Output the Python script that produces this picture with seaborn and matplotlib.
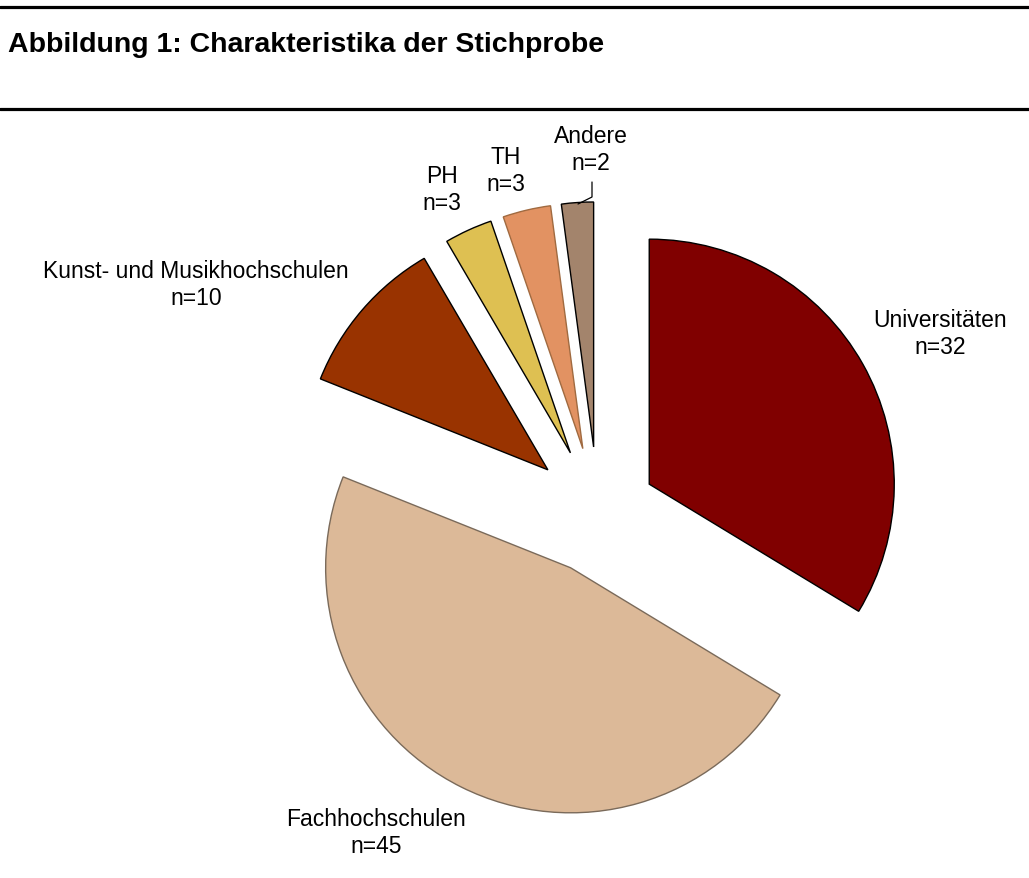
"""Abbildung 1: Charakteristika der Stichprobe - Kreisdiagramm"""
import matplotlib
matplotlib.use('Agg')
import matplotlib.pyplot as plt
import seaborn as sns
from matplotlib.lines import Line2D

sns.set_theme(style='white')
plt.rcParams['font.family'] = ['Liberation Sans', 'DejaVu Sans']

# Daten
kategorien = ['Universitäten', 'Fachhochschulen', 'Kunst- und Musikhochschulen', 'PH', 'TH', 'Andere']
anzahl = [32, 45, 10, 3, 3, 2]
farben = ['#800000', '#DCB998', '#993300', '#DEC052', '#E29262', '#A3846C']
kanten = ['black', '#7a6a5a', 'black', 'black', '#a06a40', 'black']
explode = [0.24, 0.25, 0.27, 0.27, 0.27, 0.27]   # Anteil am Radius

W, H = 1029, 879
fig = plt.figure(figsize=(W / 100, H / 100), dpi=100)
ax = fig.add_axes([0, 0, 1, 1])

# Pie im Pixelkoordinatensystem (y nach oben); explode ist bei matplotlib absolut
cx, cy, r = 598, H - 514, 245
wedges, _ = ax.pie(anzahl, explode=[e * r for e in explode], colors=farben,
                   startangle=90, counterclock=False, center=(cx, cy), radius=r,
                   wedgeprops={'linewidth': 1.0})
for w, ec in zip(wedges, kanten):
    w.set_edgecolor(ec)

ax.set_xlim(0, W)
ax.set_ylim(0, H)
ax.set_aspect('equal')
ax.axis('off')

# Beschriftungen
label_pos = {
    'Universitäten': (940, 334),
    'Fachhochschulen': (376, 833),
    'Kunst- und Musikhochschulen': (196, 285),
    'PH': (442, 190),
    'TH': (506, 171),
    'Andere': (591, 150),
}
for kat, n in zip(kategorien, anzahl):
    x, y = label_pos[kat]
    ax.text(x, H - y, f'{kat}\nn={n}', ha='center', va='center',
            fontsize=16.5, color='black', linespacing=1.25)

# Führungslinie für "Andere"
ax.plot([592, 592, 578], [H - 183, H - 198, H - 205], color='black', lw=0.9)

# Titelbereich
fig.add_artist(Line2D([0, 1], [1 - 8 / H, 1 - 8 / H], color='black', lw=2.3))
fig.add_artist(Line2D([0, 1], [1 - 110 / H, 1 - 110 / H], color='black', lw=2.3))
fig.text(8 / W, 1 - 52 / H, 'Abbildung 1: Charakteristika der Stichprobe',
         fontsize=20.5, fontweight='bold', color='black', ha='left', va='baseline')

fig.savefig('out.png', dpi=100, facecolor='white')
plt.close(fig)
